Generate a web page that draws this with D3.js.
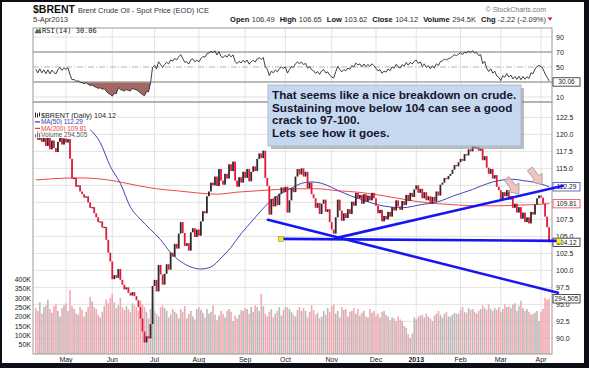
<!DOCTYPE html>
<html>
<head>
<meta charset="utf-8">
<script src="https://cdn.jsdelivr.net/npm/d3@7"></script>
<style>
  body { margin: 0; background: #0e0e16; }
  svg { display: block; font-family: Arial, "Liberation Sans", sans-serif; }
</style>
</head>
<body>
<svg id="chart" width="589" height="368"></svg>
<script>
// Cierres diarios $BRENT (10-abr-2012 .. 5-abr-2013)
const closes = [
  120.5, 119.2, 120.4, 118.9, 119.8, 118.3, 119.5, 117.8, 119.1, 118.0, 117.4, 118.9, 119.6, 118.5, 119.4,                 // abr
  118.8, 119.3, 116.4, 113.5, 113.6, 112.3, 112.5, 111.6, 111.2, 110.7, 110.9, 110.0, 109.2, 109.3, 108.4, 107.8, 107.1,
  107.2, 106.3, 106.4, 104.5, 102.6, 101.3,                                                                                 // may
  98.7, 99.3, 98.9, 100.2, 98.6, 97.9, 97.2, 97.5, 96.7, 96.3, 96.8, 96.2, 95.6, 94.6, 92.9, 91.0, 89.4, 90.3, 90.0, 92.1, 97.7, // jun
  98.6, 96.9, 100.8, 99.4, 97.9, 99.5, 100.9, 100.1, 102.6, 102.0, 103.9, 103.2, 105.4, 107.1, 105.5, 103.6, 104.0, 102.9,
  105.6, 106.2, 104.9, 106.0,                                                                                               // jul
  105.1, 107.2, 108.7, 108.4, 110.9, 111.6, 112.9, 112.5, 113.8, 112.4, 114.9, 113.2, 112.6, 114.2, 113.5, 115.6, 114.6,
  116.0, 113.2, 112.3, 113.7, 112.9, 114.5,                                                                                 // ago
  113.6, 114.9, 113.1, 114.5, 115.3, 114.6, 116.4, 117.2, 116.5, 117.6, 113.6, 112.4, 108.2, 110.5, 109.4, 110.9, 109.6,
  111.3, 112.2, 111.5,                                                                                                      // sep
  112.3, 108.5, 110.3, 112.1, 111.5, 113.8, 114.9, 114.1, 115.0, 113.8, 114.5, 112.1, 112.9, 111.2, 110.6, 109.2, 109.9,
  108.3, 109.8, 110.4, 108.6, 109.0, 107.1,                                                                                 // oct
  106.0, 105.4, 107.8, 110.4, 108.8, 107.3, 108.4, 107.7, 109.0, 108.3, 110.1, 109.5, 111.4, 110.6, 111.1, 109.8, 111.2,
  110.1, 111.0, 110.3, 111.4, 110.6,                                                                                        // nov
  109.5, 108.4, 108.9, 107.2, 108.0, 107.5, 108.6, 107.9, 109.3, 108.8, 110.3, 109.4, 108.9, 110.2, 109.6, 111.1, 110.2,
  111.4, 110.8, 111.9,                                                                                                      // dic
  112.5, 111.4, 112.0, 110.6, 111.5, 110.3, 110.9, 109.8, 110.8, 110.1, 111.6, 111.0, 112.6, 112.9, 113.6, 113.4, 113.9,
  114.2, 114.8, 115.5, 115.3, 115.9,                                                                                        // ene
  116.4, 116.1, 117.1, 116.9, 117.8, 117.5, 118.3, 117.9, 118.1, 117.6, 117.9, 116.2, 116.8, 115.1, 114.2, 114.9, 113.5,
  114.0, 112.3, 111.8,                                                                                                      // feb
  110.3, 111.5, 110.9, 111.8, 110.4, 110.9, 109.2, 109.8, 108.5, 109.3, 107.6, 108.5, 107.1, 107.8, 106.9, 108.6, 108.2,
  109.7, 110.6, 111.0,                                                                                                      // mar
  110.7, 109.8, 107.9, 106.34, 104.12                                                                                       // abr 2013
];
const firstOpen = 120.9;

// Volumen diario (miles)
const volumes = [
  245, 230, 275, 215, 250, 260, 290, 240, 220, 255, 265, 230, 200, 245, 260,
  270, 230, 340, 255, 240, 215, 210, 250, 235, 200, 225, 250, 305, 280, 250, 240, 210, 195, 225, 255, 290, 270, 300,
  320, 275, 245, 260, 300, 250, 235, 255, 240, 225, 270, 260, 250, 230, 285, 265, 250, 225, 190, 240, 275,
  230, 215, 200, 250, 260, 245, 230, 195, 210, 240, 225, 215, 190, 240, 225, 255, 190, 215, 230, 200, 185, 240,
  250, 235, 220, 195, 240, 215, 225, 260, 210, 180, 205, 230, 215, 195, 230, 240, 225, 175, 205, 190, 210, 235, 230,
  245, 240, 215, 250, 225, 260, 250, 230, 320, 255, 215, 200, 225, 240, 195, 215, 230, 250, 205, 235,
  250, 250, 240, 225, 210, 200, 235, 250, 230, 245, 230, 195, 225, 260, 235, 210, 220, 190, 200, 230, 210, 245, 225,
  255, 265, 215, 230, 195, 250, 235, 240, 200, 225, 230, 245, 215, 240, 205, 220, 230, 200, 195, 240, 220, 230,
  205, 215, 195, 225, 230, 210, 200, 180, 195, 190, 175, 200, 185, 175, 150, 140, 105, 85, 110, 195,
  185, 200, 205, 210, 195, 215, 200, 190, 175, 205, 215, 230, 210, 195, 215, 225, 200, 200, 210, 220, 215, 215,
  235, 250, 225, 220, 245, 235, 240, 225, 215, 230, 240, 260, 245, 235, 265, 240, 230, 245, 235, 250,
  225, 240, 265, 250, 255, 245, 265, 270, 230, 255, 285, 245, 230, 240, 225, 210, 215, 220, 230, 175,
  225, 240, 300, 290, 294.5
];

// Medias moviles: [dia de negociacion, valor]
const ma50 = [[27, 120.7], [32, 118.8], [37, 115.3], [42, 112.8], [47, 109.3], [52, 107.5], [57, 106.0], [62, 104.5],
  [67, 102.6], [72, 101.3], [77, 100.5], [82, 100.2], [87, 100.5], [92, 101.8], [97, 103.4], [102, 105.4], [107, 107.1],
  [112, 108.8], [117, 110.3], [122, 111.3], [127, 112.1], [132, 112.8], [137, 113.0], [142, 112.8], [147, 112.2],
  [152, 111.5], [157, 110.9], [162, 110.4], [167, 109.9], [172, 109.5], [177, 109.3], [182, 109.2], [187, 109.4],
  [192, 109.7], [197, 109.9], [202, 110.3], [207, 110.9], [212, 111.4], [217, 111.9], [222, 112.5], [227, 113.0],
  [232, 113.3], [237, 113.4], [242, 113.2], [247, 113.0], [252, 112.6], [255, 112.29]];
const ma200 = [[0, 113.3], [10, 113.5], [20, 113.6], [30, 113.5], [40, 113.1], [50, 112.5], [60, 112.0], [70, 111.7],
  [80, 111.4], [90, 111.2], [100, 111.5], [110, 111.7], [120, 111.9], [130, 112.0], [140, 112.0], [150, 111.7],
  [160, 111.5], [170, 111.1], [180, 110.6], [190, 110.1], [200, 109.8], [210, 109.6], [220, 109.5], [230, 109.5],
  [240, 109.6], [250, 109.7], [255, 109.81]];

// Semilla del RSI(14) (ganancia / perdida media al inicio)
const rsiSeed = { gain: 0.40, loss: 0.45 };

// Lineas de tendencia dibujadas a mano: [dia, precio]
const trendLines = [
  [[115.3, 107.43], [259.4, 96.7]],
  [[149.6, 104.78], [261.9, 112.43]],
  [[121.8, 104.63], [259.9, 104.34]]
];
const arrowTips = [[240, 111.2], [251.5, 112.6]];

const priceTicks = [90, 92.5, 95, 97.5, 100, 102.5, 105, 107.5, 110, 112.5, 115, 117.5, 120, 122.5];
const rsiTicks = [10, 50, 70, 90];
const volTicks = [50, 100, 150, 200, 250, 300, 350, 400];
const holidays = ["2012-12-25", "2013-01-01", "2013-03-29"];

const note = [
  "That seems like a nice breakdown on crude.",
  "Sustaining move below 104 can see a good",
  "crack to 97-100.",
  "Lets see how it goes."
];

// Dias de negociacion
const fmtDay = d3.timeFormat("%Y-%m-%d");
const days = d3.timeDays(new Date(2012, 3, 10), new Date(2013, 3, 6))
  .filter(d => d.getDay() % 6 !== 0 && !holidays.includes(fmtDay(d)));

const n = closes.length;
const left = 33, right = 552, rsiTop = 28, rsiBottom = 102, bottom = 354;

const svg = d3.select("#chart");
svg.append("rect").attr("x", 2).attr("y", 2).attr("width", 582).attr("height", 361).attr("fill", "#fff");

// Escalas
const x = d3.scaleLinear().domain([0, n - 1]).range([35.8, 549.1]);
const yP = d3.scaleLinear().domain([87.7, 124.76]).range([bottom, rsiBottom]);
const yR = d3.scaleLinear().domain([3.33, 102]).range([rsiBottom, rsiTop]);
const yV = d3.scaleLinear().domain([0, 400]).range([bottom, 279]);

// Inicio de cada mes
const monthStarts = [];
days.forEach((d, i) => {
  if (i > 0 && d.getMonth() !== days[i - 1].getMonth()) monthStarts.push({ i, d });
});

// Rejilla
const grid = svg.append("g").attr("stroke", "#e3e3e3").attr("stroke-width", 1);
monthStarts.forEach(m => {
  grid.append("line").attr("x1", x(m.i)).attr("x2", x(m.i)).attr("y1", rsiTop).attr("y2", bottom);
});
priceTicks.forEach(p => {
  grid.append("line").attr("x1", left).attr("x2", right).attr("y1", yP(p)).attr("y2", yP(p));
});
rsiTicks.filter(t => t !== 50 && t !== 70).forEach(t => {
  grid.append("line").attr("x1", left).attr("x2", right).attr("y1", yR(t)).attr("y2", yR(t));
});

// Volumen
svg.append("g").selectAll("rect")
  .data(volumes)
  .join("rect")
  .attr("x", (d, i) => x(i) - 0.8)
  .attr("width", 1.6)
  .attr("y", d => yV(d))
  .attr("height", d => bottom - yV(d))
  .attr("fill", (d, i) => closes[i] < (i ? closes[i - 1] : firstOpen) ? "#f2a9b1" : "#b9b9b9");

// Medias moviles
const maLine = d3.line().x(d => x(d[0])).y(d => yP(d[1])).curve(d3.curveMonotoneX);
svg.append("path").datum(ma200).attr("fill", "none").attr("stroke", "#f24848").attr("stroke-width", 1).attr("d", maLine);
svg.append("path").datum(ma50).attr("fill", "none").attr("stroke", "#4646b0").attr("stroke-width", 1).attr("d", maLine);

// Velas (apertura = cierre anterior)
const bars = closes.map((c, i) => ({ i, c, o: i ? closes[i - 1] : firstOpen }));
svg.append("g").selectAll("rect")
  .data(bars)
  .join("rect")
  .attr("x", d => x(d.i) - 0.9)
  .attr("width", 1.8)
  .attr("y", d => yP(Math.max(d.o, d.c)))
  .attr("height", d => Math.max(1.2, Math.abs(yP(d.o) - yP(d.c))))
  .attr("fill", d => d.c < d.o ? "#e2183a" : "#2b2b2b");

// RSI(14)
const rsi = [];
let ag = rsiSeed.gain, al = rsiSeed.loss;
closes.forEach((c, i) => {
  if (i > 0) {
    const ch = c - closes[i - 1];
    ag = (ag * 13 + Math.max(ch, 0)) / 14;
    al = (al * 13 + Math.max(-ch, 0)) / 14;
  }
  rsi.push(100 - 100 / (1 + ag / al));
});

const defs = svg.append("defs");
defs.append("clipPath").attr("id", "below30").append("rect")
  .attr("x", left).attr("y", yR(30)).attr("width", right - left).attr("height", rsiBottom - yR(30));
defs.append("clipPath").attr("id", "above70").append("rect")
  .attr("x", left).attr("y", rsiTop).attr("width", right - left).attr("height", yR(70) - rsiTop);

svg.append("path").datum(rsi).attr("clip-path", "url(#below30)").attr("fill", "#a56762")
  .attr("d", d3.area().x((d, i) => x(i)).y0(yR(30)).y1(d => yR(d)));
svg.append("path").datum(rsi).attr("clip-path", "url(#above70)").attr("fill", "#6a9e6a")
  .attr("d", d3.area().x((d, i) => x(i)).y0(yR(70)).y1(d => yR(d)));

svg.append("g").attr("stroke", "#a4a4a4").attr("stroke-width", 1.6)
  .selectAll("line").data([30, 70]).join("line")
  .attr("x1", left).attr("x2", right).attr("y1", d => yR(d)).attr("y2", d => yR(d));
svg.append("line").attr("x1", left).attr("x2", right).attr("y1", yR(50)).attr("y2", yR(50))
  .attr("stroke", "#b4b4b4").attr("stroke-dasharray", "6,2,1,2");

svg.append("path").datum(rsi).attr("fill", "none").attr("stroke", "#2a2a2a").attr("stroke-width", 0.9)
  .attr("d", d3.line().x((d, i) => x(i)).y(d => yR(d)));

// Marcos de paneles
svg.append("rect").attr("x", left).attr("y", rsiTop).attr("width", right - left).attr("height", rsiBottom - rsiTop)
  .attr("fill", "none").attr("stroke", "#9a9a9a");
svg.append("rect").attr("x", left).attr("y", rsiBottom).attr("width", right - left).attr("height", bottom - rsiBottom)
  .attr("fill", "none").attr("stroke", "#9a9a9a");

// Etiquetas de valor a la derecha
const tags = [
  { y: yR(30.06), t: "30.06", c: "#222" },
  { y: yP(112.29), t: "112.29", c: "#4646b0" },
  { y: yP(109.81), t: "109.81", c: "#f24848" },
  { y: yP(104.12), t: "104.12", c: "#222" },
  { y: yV(294.5), t: "294,505", c: "#222" }
];
const freeTick = y => tags.every(t => Math.abs(t.y - y) > 5);

// Ejes
function styleAxis(g) {
  g.select(".domain").remove();
  g.attr("font-family", "Arial, 'Liberation Sans', sans-serif").attr("font-size", 7);
  g.selectAll("text").attr("fill", "#222");
}
svg.append("g").attr("transform", `translate(${right},0)`)
  .call(d3.axisRight(yP).tickValues(priceTicks.filter(p => freeTick(yP(p)))).tickFormat(d3.format(".1f")).tickSize(0).tickPadding(4))
  .call(styleAxis);
svg.append("g").attr("transform", `translate(${right},0)`)
  .call(d3.axisRight(yR).tickValues(rsiTicks).tickFormat(d3.format("d")).tickSize(0).tickPadding(4))
  .call(styleAxis);
svg.append("g").attr("transform", `translate(${left},0)`)
  .call(d3.axisLeft(yV).tickValues(volTicks).tickFormat(d => d + "K").tickSize(0).tickPadding(2))
  .call(styleAxis);

svg.append("g").selectAll("text")
  .data(monthStarts)
  .join("text")
  .attr("x", d => x(d.i))
  .attr("y", 362)
  .attr("text-anchor", "middle")
  .attr("font-size", 7)
  .attr("font-weight", d => d.d.getMonth() === 0 ? "bold" : "normal")
  .attr("fill", "#222")
  .text(d => d.d.getMonth() === 0 ? d3.timeFormat("%Y")(d.d) : d3.timeFormat("%b")(d.d));

// Lineas de tendencia
const tl = svg.append("g");
trendLines.forEach(l => {
  tl.append("line")
    .attr("x1", x(l[0][0])).attr("y1", yP(l[0][1]))
    .attr("x2", x(l[1][0])).attr("y2", yP(l[1][1]))
    .attr("stroke", "#1616f5").attr("stroke-width", 2.6).attr("stroke-linecap", "round");
});

// Cajas de valor
const tg = svg.append("g").selectAll("g").data(tags).join("g")
  .attr("transform", d => `translate(553,${d.y})`);
tg.append("rect").attr("x", 0).attr("y", -4.2).attr("width", 27).attr("height", 8.4)
  .attr("fill", "#fff").attr("stroke", d => d.c).attr("stroke-width", 0.8);
tg.append("text").attr("x", 13.5).attr("y", 2.4).attr("text-anchor", "middle").attr("font-size", 6.6)
  .attr("fill", "#222").text(d => d.t);

trendLines[2].forEach(p => {
  tl.append("rect").attr("x", x(p[0]) - 2.5).attr("y", yP(p[1]) - 2.5).attr("width", 5).attr("height", 5)
    .attr("fill", "#ffee00").attr("stroke", "#777").attr("stroke-width", 0.5);
});
tl.raise();

// Flechas
arrowTips.forEach(t => {
  svg.append("path")
    .attr("d", "M0,0 L-9,-7 L-9,-3 L-20,-3 L-20,3 L-9,3 L-9,7 Z")
    .attr("transform", `translate(${x(t[0])},${yP(t[1])}) rotate(52)`)
    .attr("fill", "#f1b8b8").attr("fill-opacity", 0.85)
    .attr("stroke", "#9c9c9c").attr("stroke-width", 0.8);
});

// Nota
const box = svg.append("g");
box.append("rect").attr("x", 271).attr("y", 88).attr("width", 253).attr("height", 61).attr("fill", "#8f8f8f").attr("opacity", 0.6);
box.append("rect").attr("x", 268).attr("y", 85).attr("width", 253).attr("height", 61)
  .attr("fill", "#c6d8ef").attr("stroke", "#a9bdd6");
box.selectAll("text").data(note).join("text")
  .attr("x", 272).attr("y", (d, i) => 99 + i * 12.7)
  .attr("font-size", 11.7).attr("font-weight", "bold").attr("fill", "#14142c")
  .text(d => d);

// Leyendas
const leg = svg.append("g").attr("font-size", 6.4);
const legRows = [
  { y: 117.5, t: "$BRENT (Daily) 104.12", c: "#222", fs: 7.2 },
  { y: 124.2, t: "MA(50) 112.29", c: "#3a3aa8", fs: 6.4 },
  { y: 130.7, t: "MA(200) 109.81", c: "#f03a3a", fs: 6.4 },
  { y: 137.2, t: "Volume 294,505", c: "#555", fs: 6.4 }
];
legRows.forEach((r, j) => {
  const bg = leg.append("rect").attr("fill", "#fff");
  const t = leg.append("text").attr("x", 41).attr("y", r.y).attr("font-size", r.fs).attr("fill", r.c).text(r.t);
  const w = t.node().getComputedTextLength();
  bg.attr("x", 34).attr("y", r.y - 5.6).attr("width", w + 9).attr("height", 6.4);
  if (j === 1 || j === 2) {
    leg.append("line").attr("x1", 35).attr("x2", 40).attr("y1", r.y - 2.3).attr("y2", r.y - 2.3)
      .attr("stroke", r.c).attr("stroke-width", 1.2);
  } else if (j === 0) {
    leg.append("path").attr("d", `M35.5,${r.y - 5}v5M37.5,${r.y - 4}v4M39.5,${r.y - 5}v4`)
      .attr("stroke", "#222").attr("stroke-width", 1);
  } else {
    leg.append("path").attr("d", `M35,${r.y}v-3h1.2v3zM37,${r.y}v-5h1.2v5zM39,${r.y}v-4h1.2v4z`)
      .attr("fill", "#777");
  }
});

// RSI leyenda
svg.append("text").attr("x", 42).attr("y", 33)
  .attr("font-family", "'DejaVu Sans Mono', monospace").attr("font-size", 7).attr("fill", "#222")
  .text("RSI(14) 30.06");
svg.append("path").attr("d", "M35,33 L37,29 L38.5,31 L40,28.5 L41,33 Z").attr("fill", "#3b8a3b").attr("stroke", "#222").attr("stroke-width", 0.4);

// Cabecera
const title = svg.append("text").attr("x", 33).attr("y", 13).attr("fill", "#111");
title.append("tspan").attr("font-size", 10.5).attr("font-weight", "bold").text("$BRENT");
title.append("tspan").attr("dx", 3).attr("font-size", 7.5).attr("fill", "#333").text("Brent Crude Oil - Spot Price (EOD) ICE");
svg.append("text").attr("x", 33).attr("y", 22).attr("font-size", 7.5).attr("fill", "#333").text("5-Apr2013");
svg.append("text").attr("x", 546).attr("y", 11.5).attr("text-anchor", "end").attr("font-size", 7)
  .attr("fill", "#777").text("\u00a9 StockCharts.com");

const hdr = svg.append("text").attr("x", 546).attr("y", 22).attr("text-anchor", "end").attr("font-size", 7.5).attr("fill", "#333");
[["Open", "106.49"], ["High", "106.65"], ["Low", "103.62"], ["Close", "104.12"], ["Volume", "294.5K"], ["Chg", "-2.22 (-2.09%)"]]
  .forEach(([k, v], j) => {
    hdr.append("tspan").attr("dx", j ? 5 : 0).attr("font-weight", "bold").attr("fill", "#111").text(k);
    hdr.append("tspan").attr("dx", 2.5).text(v);
  });
svg.append("path").attr("d", "M547.5,17.5 L552.5,17.5 L550,20.5 Z").attr("fill", "#d0102a");
</script>
</body>
</html>
